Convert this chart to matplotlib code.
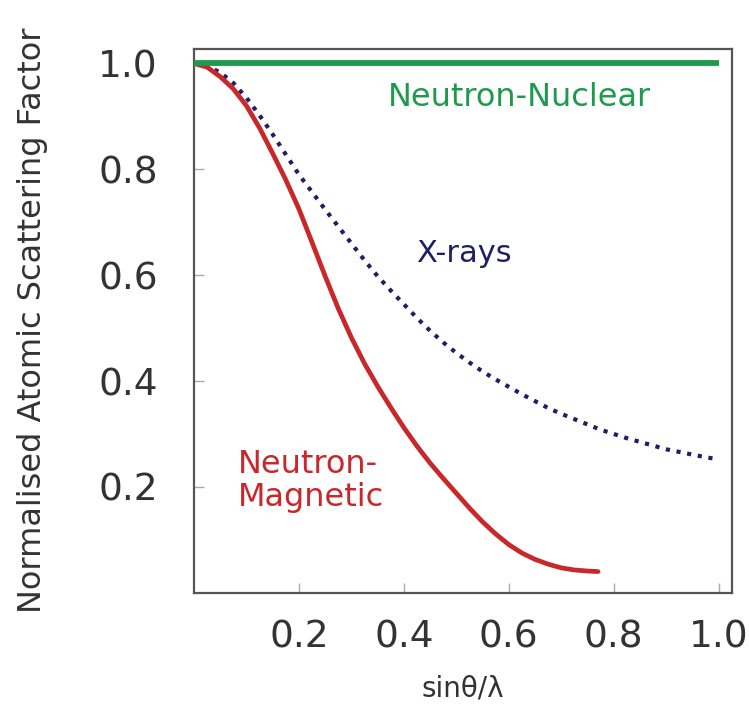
# Normalised atomic scattering factor vs sin(theta)/lambda for
# neutron-nuclear, X-ray and neutron-magnetic scattering
import matplotlib
matplotlib.use("Agg")
import matplotlib.pyplot as plt

plt.rcParams['font.family'] = ['DejaVu Sans']

# Neutron-nuclear: flat, no angular dependence
nuclear_x = [0.0, 1.0]
nuclear_y = [1.0, 1.0]

# X-ray form factor (dotted curve)
xray_x = [0.000, 0.025, 0.050, 0.075, 0.100, 0.125, 0.150, 0.175, 0.200, 0.225,
          0.250, 0.275, 0.300, 0.325, 0.350, 0.375, 0.400, 0.425, 0.450, 0.475,
          0.500, 0.525, 0.550, 0.575, 0.600, 0.625, 0.650, 0.675, 0.700, 0.725,
          0.750, 0.775, 0.800, 0.825, 0.850, 0.875, 0.900, 0.925, 0.950, 0.975, 1.000]
xray_y = [1.000, 0.995, 0.983, 0.963, 0.935, 0.902, 0.866, 0.828, 0.790, 0.757,
          0.724, 0.692, 0.660, 0.628, 0.598, 0.571, 0.545, 0.519, 0.495, 0.473,
          0.453, 0.435, 0.418, 0.403, 0.389, 0.375, 0.362, 0.349, 0.338, 0.328,
          0.318, 0.308, 0.300, 0.292, 0.285, 0.278, 0.271, 0.266, 0.261, 0.256, 0.252]

# Neutron magnetic form factor (falls off much faster)
mag_x = [0.000, 0.025, 0.050, 0.075, 0.100, 0.125, 0.150, 0.175, 0.200, 0.225,
         0.250, 0.275, 0.300, 0.325, 0.350, 0.375, 0.400, 0.425, 0.450, 0.475,
         0.500, 0.525, 0.550, 0.575, 0.600, 0.625, 0.650, 0.675, 0.700, 0.725,
         0.750, 0.770]
mag_y = [1.000, 0.993, 0.975, 0.952, 0.920, 0.878, 0.830, 0.780, 0.725, 0.662,
         0.598, 0.537, 0.482, 0.433, 0.390, 0.350, 0.312, 0.277, 0.245, 0.216,
         0.188, 0.160, 0.134, 0.111, 0.091, 0.075, 0.063, 0.054, 0.047, 0.043,
         0.041, 0.040]

x_ticks = [0.2, 0.4, 0.6, 0.8, 1.0]
y_ticks = [0.2, 0.4, 0.6, 0.8, 1.0]

green = '#1e9a4c'
navy = '#1f1f66'
red = '#c8282a'
grey = '#333333'

fig = plt.figure(figsize=(7.49, 7.15), dpi=100)
ax = fig.add_axes([0.259, 0.171, 0.718, 0.761])

ax.plot(nuclear_x, nuclear_y, color=green, lw=4.2, solid_capstyle='butt', zorder=3)
ax.plot(xray_x, xray_y, color=navy, lw=3.0, linestyle=(0, (1, 1.6)), zorder=2)
ax.plot(mag_x, mag_y, color=red, lw=3.4, solid_capstyle='round',
        solid_joinstyle='round', zorder=2)

# Curve labels
ax.text(0.62, 0.936, 'Neutron-Nuclear', color=green, fontsize=23, ha='center', va='center')
ax.text(0.514, 0.64, 'X-rays', color=navy, fontsize=22, ha='center', va='center')
ax.text(0.084, 0.211, 'Neutron-\nMagnetic', color=red, fontsize=23, ha='left', va='center',
        linespacing=1.1)

ax.set_xlim(0, 1.025)
ax.set_ylim(0, 1.028)
ax.set_xticks(x_ticks)
ax.set_yticks(y_ticks)
ax.set_xticklabels([f'{v:.1f}' for v in x_ticks])
ax.set_yticklabels([f'{v:.1f}' for v in y_ticks])
ax.tick_params(direction='in', length=7, width=1, color='#aaaaaa', labelsize=27,
               labelcolor=grey)
ax.tick_params(axis='x', pad=19)
ax.tick_params(axis='y', pad=26)

for side in ax.spines.values():
    side.set_color('#555555')
    side.set_linewidth(1.6)

ax.set_xlabel('sinθ/λ', fontsize=20, color=grey, labelpad=14)
ax.set_ylabel('Normalised Atomic Scattering Factor', fontsize=23, color=grey,
              labelpad=36)

fig.savefig('out.png', dpi=100)
